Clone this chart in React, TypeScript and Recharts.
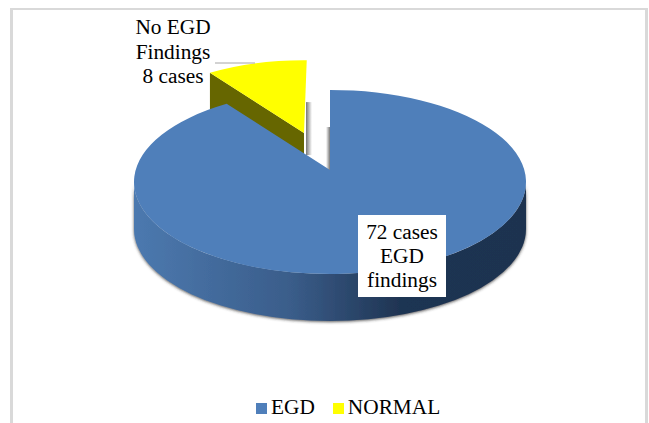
import { Legend, Pie, PieChart } from 'recharts';

const sliceNames = ['NORMAL', 'EGD'];
const sliceValues = [8, 72];
const sliceColors = ['#ffff00', '#4f7fba'];
const egdLabel = ['72 cases', 'EGD', 'findings'];
const normalLabel = ['No EGD', 'Findings', '8 cases'];

const data = sliceNames.map((name, i) => ({ name, value: sliceValues[i], fill: sliceColors[i] }));

const FONT = '"Liberation Serif", "Times New Roman", serif';
const FONT_SIZE = 21.33;
const TILT = 0.47; // vertical squash of the pie disc
const PERSPECTIVE = 0.13; // how far the slice apex sits behind the disc centre
const DEPTH = 47;

const RAD = Math.PI / 180;

// circle point -> point on the tilted disc, straight lines stay straight
function project(cx: number, cy: number, rx: number, ry: number, angle: number) {
  const u = Math.cos(angle * RAD);
  const v = Math.sin(angle * RAD);
  const k = 1 + PERSPECTIVE * v;
  return {
    x: cx + (rx * u * Math.sqrt(1 - PERSPECTIVE * PERSPECTIVE)) / k,
    y: cy - (ry * (v + PERSPECTIVE)) / k,
  };
}

function Slice3D(props: any) {
  const { cx, cy, outerRadius, startAngle, endAngle, fill, name } = props;
  const normal = name === 'NORMAL';
  const scale = normal ? 0.91 : 1;
  const rx = outerRadius * scale;
  const ry = outerRadius * TILT * scale;
  const x0 = cx + (normal ? -26 : 0);
  const y0 = cy + (normal ? -38 : 0);
  const apex = { x: x0, y: y0 - ry * PERSPECTIVE };
  const a = project(x0, y0, rx, ry, startAngle);
  // the pulled-out slice opens up slightly on its far edge
  const b = project(x0, y0, rx, ry, normal ? endAngle - 1 : endAngle);
  const large = Math.abs(startAngle - endAngle) > 180 ? 1 : 0;
  const top = `M${apex.x},${apex.y} L${a.x},${a.y} A${rx},${ry} 0 ${large} 1 ${b.x},${b.y} Z`;

  if (normal) {
    return (
      <g>
        <rect x={apex.x + 2} y={apex.y - 31} width={6} height={53} fill="url(#wallRight)" />
        <path
          d={`M${a.x},${a.y} L${apex.x},${apex.y} L${apex.x},${apex.y + DEPTH} L${a.x},${a.y + DEPTH} Z`}
          fill="#666600"
        />
        <path d={top} fill={fill} />
      </g>
    );
  }

  const side =
    `M${x0 + rx},${y0} A${rx},${ry} 0 0 1 ${x0 - rx},${y0} ` +
    `L${x0 - rx},${y0 + DEPTH} A${rx},${ry} 0 0 0 ${x0 + rx},${y0 + DEPTH} Z`;
  return (
    <g>
      <rect x={apex.x - 4} y={apex.y - 43} width={4} height={43} fill="url(#wallLeft)" />
      <path d={side} fill="url(#egdSide)" filter="url(#rim)" />
      <path d={top} fill={fill} />
    </g>
  );
}

function SliceLabel(props: any) {
  const { name } = props;
  const textStyle = { fontFamily: FONT, fontSize: FONT_SIZE, fill: '#000', textAnchor: 'middle' as const };
  if (name === 'EGD') {
    return (
      <g>
        <rect x={358} y={215} width={88} height={82} fill="#fff" />
        {egdLabel.map((line, i) => (
          <text key={line} x={402} y={239 + i * 24} style={textStyle}>
            {line}
          </text>
        ))}
      </g>
    );
  }
  return (
    <g>
      <line x1={215} y1={63} x2={255} y2={63} stroke="#a6a6a6" strokeWidth={1} />
      {normalLabel.map((line, i) => (
        <text key={line} x={173} y={34 + i * 24.5} style={textStyle}>
          {line}
        </text>
      ))}
    </g>
  );
}

export default function App() {
  return (
    <div style={{ position: 'absolute', left: 0, top: 0, width: 649, height: 423, overflow: 'hidden', background: '#fff' }}>
      <div
        style={{
          position: 'absolute',
          left: 10,
          top: 8,
          width: 632,
          height: 440,
          border: '3px solid #d9d9d9',
          borderTopWidth: 2,
        }}
      />
      <PieChart width={649} height={423} margin={{ top: 0, right: 0, bottom: 0, left: 0 }} style={{ position: 'absolute', left: 0, top: 0 }}>
        <defs>
          <linearGradient id="egdSide" x1="0" y1="0" x2="1" y2="0">
            <stop offset="0" stopColor="#4c79af" />
            <stop offset="0.4" stopColor="#3a5d8a" />
            <stop offset="0.68" stopColor="#1f3452" />
            <stop offset="1" stopColor="#1d3350" />
          </linearGradient>
          <linearGradient id="wallRight" x1="0" y1="0" x2="1" y2="0">
            <stop offset="0" stopColor="#777" />
            <stop offset="1" stopColor="#fff" />
          </linearGradient>
          <linearGradient id="wallLeft" x1="0" y1="0" x2="1" y2="0">
            <stop offset="0" stopColor="#fff" />
            <stop offset="1" stopColor="#777" />
          </linearGradient>
          <filter id="rim" x="-3%" y="-10%" width="106%" height="120%">
            <feDropShadow dx="0" dy="1" stdDeviation="1.5" floodColor="#333" floodOpacity="0.8" />
          </filter>
        </defs>
        <Pie
          data={data}
          dataKey="value"
          nameKey="name"
          cx={330}
          cy={182}
          outerRadius={196}
          startAngle={126}
          endAngle={-234}
          stroke="none"
          shape={Slice3D}
          label={SliceLabel}
          labelLine={false}
          isAnimationActive={false}
        />
        <Legend
          itemSorter="value"
          iconType="square"
          iconSize={11}
          align="left"
          verticalAlign="bottom"
          wrapperStyle={{ left: 256, top: 393, width: 240, bottom: 'auto' }}
          formatter={(value: string) => (
            <span style={{ color: '#000', fontFamily: FONT, fontSize: FONT_SIZE, marginRight: 8, position: 'relative', top: 2 }}>{value}</span>
          )}
        />
      </PieChart>
    </div>
  );
}
